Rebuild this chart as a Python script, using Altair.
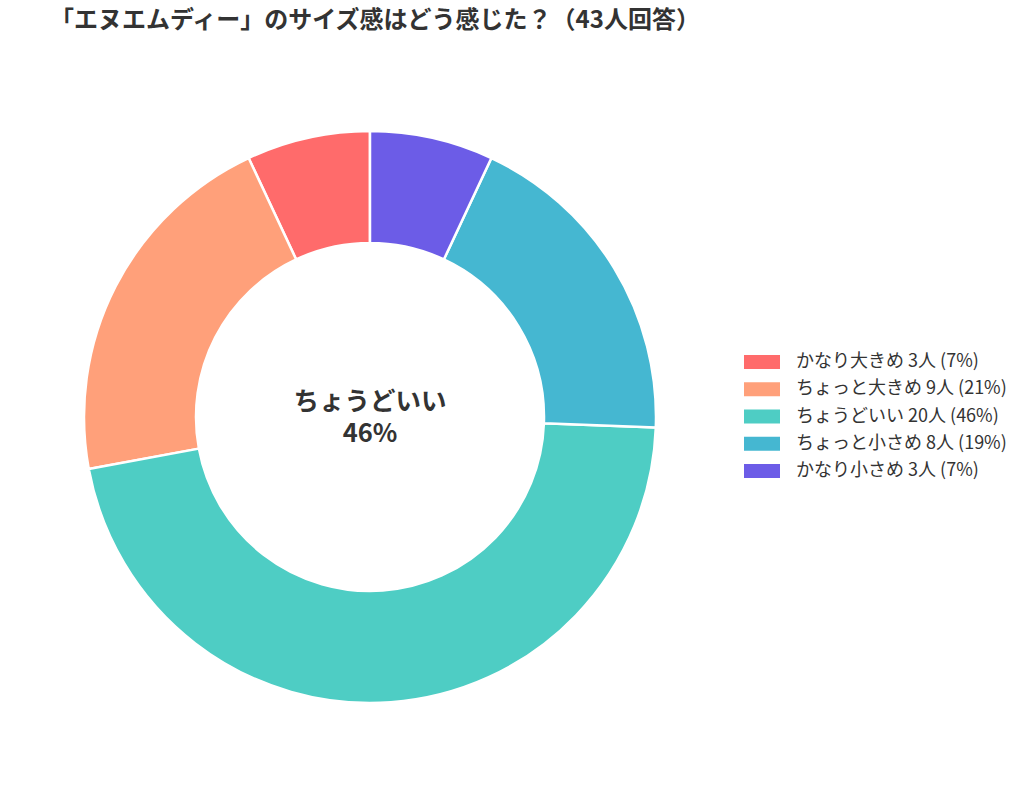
import altair as alt
import pandas as pd

categories = ["かなり大きめ", "ちょっと大きめ", "ちょうどいい", "ちょっと小さめ", "かなり小さめ"]
counts = [3, 9, 20, 8, 3]
percents = [7, 21, 46, 19, 7]
colors = ["#FF6B6B", "#FFA07A", "#4ECDC4", "#45B7D1", "#6C5CE7"]
title_text = "「エヌエムディー」のサイズ感はどう感じた？（43人回答）"
center_lines = ["ちょうどいい", "46%"]

FONT = "Noto Sans CJK JP"

labels = [f"{c} {n}人 ({p}%)" for c, n, p in zip(categories, counts, percents)]
df = pd.DataFrame({"label": labels, "count": counts, "idx": list(range(len(labels)))})
df["ord"] = -df["idx"]

arcs = alt.Chart(df).mark_arc(
    outerRadius=286, innerRadius=174, stroke="white", strokeWidth=2.5
).encode(
    theta=alt.Theta("count:Q", stack=True),
    color=alt.Color(
        "label:N",
        scale=alt.Scale(domain=labels, range=colors),
        sort=labels,
        legend=alt.Legend(
            title=None,
            orient="none",
            legendX=744,
            legendY=304,
            symbolType="M-1,-0.39L1,-0.39L1,0.39L-1,0.39Z",
            symbolSize=1296,
            symbolStrokeWidth=0,
            symbolOpacity=1,
            labelFont=FONT,
            labelFontSize=18,
            labelColor="#333333",
            labelOffset=16,
            labelLimit=400,
            rowPadding=0.25,
        ),
    ),
    order=alt.Order("ord:Q"),
    x=alt.value(370),
    y=alt.value(377),
)

center_df = pd.DataFrame({"txt": [center_lines[0]], "sub": [center_lines[1]]})
center1 = alt.Chart(center_df).mark_text(
    font=FONT, fontSize=25.5, fontWeight="bold", color="#333333",
    align="center", baseline="middle",
).encode(text="txt:N", x=alt.value(370), y=alt.value(362))
center2 = alt.Chart(center_df).mark_text(
    font=FONT, fontSize=25.5, fontWeight="bold", color="#333333",
    align="center", baseline="middle",
).encode(text="sub:N", x=alt.value(370), y=alt.value(394))

chart = alt.layer(arcs, center1, center2).properties(
    width=1024,
    height=748,
    autosize=alt.AutoSizeParams(type="none"),
    padding={"top": 40, "left": 0, "right": 0, "bottom": 0},
    title=alt.TitleParams(
        text=title_text, anchor="start", frame="group", font=FONT,
        fontSize=24, fontWeight="bold", color="#333333", offset=7, dx=50,
    ),
).configure_view(stroke=None)

chart.save("out.html", embed_options={"renderer": "svg", "actions": False})
